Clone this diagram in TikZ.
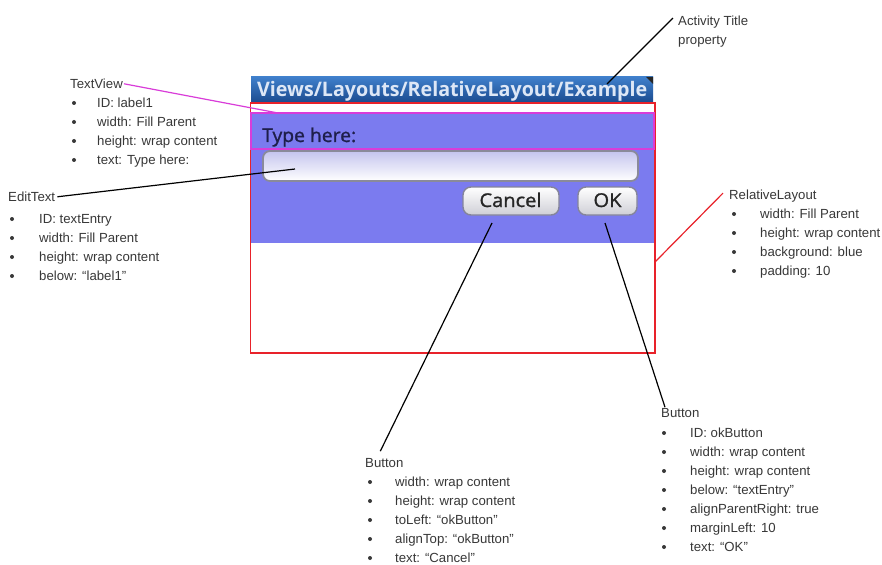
\documentclass[tikz,border=0pt]{standalone}
\usepackage{graphicx}
\usepackage{fontspec}
\setmainfont{Liberation Sans}
\newfontfamily\droid{Open Sans}
\newfontfamily\droidm[FakeBold=1.2]{Open Sans}
\definecolor{labelgray}{HTML}{383838}
\definecolor{titletop}{HTML}{3F7FCB}
\definecolor{titlebot}{HTML}{1C4C90}
\definecolor{titletext}{HTML}{DDE7F6}
\definecolor{bodyblue}{HTML}{7B7BEF}
\definecolor{tvmagenta}{HTML}{D93CD9}
\definecolor{rlred}{HTML}{E8222A}
\definecolor{editborder}{HTML}{8A8A9A}
\definecolor{editlav}{HTML}{C4C4EE}
\definecolor{btnborder}{HTML}{85859A}
\definecolor{btnbot}{HTML}{CFCFD6}
\definecolor{typetext}{HTML}{1E1E4A}
\begin{document}
\begin{tikzpicture}[x=1pt,y=-1pt,
  lbl/.style={anchor=base west, inner sep=0pt, font=\fontsize{13.2}{16}\selectfont, text=labelgray},
  bul/.style={circle, fill=labelgray, inner sep=0pt, minimum size=4pt},
  conn/.style={line width=1.2pt, black},
  tvconn/.style={line width=1.2pt, tvmagenta},
  rlconn/.style={line width=1.2pt, rlred}]
\useasboundingbox (0,0) rectangle (882,564);
\fill[white] (0,0) rectangle (882,564);

% ---------- phone screen ----------
\shade[top color=titletop, bottom color=titlebot] (251,77) rectangle (653,102);
\fill[black!85] (646,77) -- (653,77) -- (653,84) -- cycle;
\node[anchor=base west, inner sep=0pt, text=titletext] (title) at (257,97)
  {\resizebox{390pt}{\height}{\droid\bfseries\fontsize{20}{24}\selectfont Views/Layouts/RelativeLayout/Example}};
\fill[white] (251,102) rectangle (654,353);
\fill[bodyblue] (251,113) rectangle (654,243);
\draw[rlred, line width=1.5pt] (250.5,103) rectangle (655,353);
\draw[tvmagenta, line width=1.3pt] (251,113) rectangle (654,149);
\node[anchor=base west, inner sep=0pt, text=typetext] (typehere) at (262,142)
  {\resizebox{94pt}{\height}{\droidm\fontsize{19}{22}\selectfont Type here:}};
\draw[rounded corners=7pt, draw=editborder, line width=1.8pt, top color=editlav, bottom color=white]
  (263,151) rectangle (638,181);
\draw[rounded corners=8pt, draw=btnborder, line width=1.4pt, top color=white, bottom color=btnbot]
  (463,187) rectangle (559,215);
\draw[rounded corners=8pt, draw=btnborder, line width=1.4pt, top color=white, bottom color=btnbot]
  (578,187) rectangle (637,215);
\node[anchor=base, inner sep=0pt, text=black!85] (cancel) at (510.5,207)
  {\resizebox{62pt}{\height}{\droidm\fontsize{19}{22}\selectfont Cancel}};
\node[anchor=base, inner sep=0pt, text=black!85] (ok) at (607.5,207)
  {\resizebox{28pt}{\height}{\droidm\fontsize{19}{22}\selectfont OK}};

% ---------- connector targets on the screen ----------
\coordinate (titleP) at (607,84);
\coordinate (tvP) at (278,113);
\coordinate (etP) at (295,169);
\coordinate (rlP) at (655,262);
\coordinate (cancelP) at (492,223);
\coordinate (okP) at (605,223);

% ---------- Activity Title ----------
\node[lbl] (act) at (678,25.5) {Activity Title};
\node[lbl] (actprop) at (678,44.5) {property};

% ---------- TextView ----------
\node[lbl] (tvlbl) at (70,88.5) {TextView};
\foreach \t [count=\i from 0] in {ID: label1, width: Fill Parent, height: wrap content, text: Type here:} {
  \node[bul] (tvb\i) at (74,103+19*\i) {};
  \node[lbl] (tvt\i) at (97,107.5+19*\i) {\t};
}

% ---------- EditText ----------
\node[lbl] (etlbl) at (8,201.5) {EditText};
\foreach \t [count=\i from 0] in {ID: textEntry, width: Fill Parent, height: wrap content, below: “label1”} {
  \node[bul] (etb\i) at (12,219+19*\i) {};
  \node[lbl] (ett\i) at (39,223.5+19*\i) {\t};
}

% ---------- RelativeLayout ----------
\node[lbl] (rllbl) at (729,199.5) {RelativeLayout};
\foreach \t [count=\i from 0] in {width: Fill Parent, height: wrap content, background: blue, padding: 10} {
  \node[bul] (rlb\i) at (734,214+19*\i) {};
  \node[lbl] (rlt\i) at (760,218.5+19*\i) {\t};
}

% ---------- Cancel Button ----------
\node[lbl] (cblbl) at (365,467.5) {Button};
\foreach \t [count=\i from 0] in {width: wrap content, height: wrap content, toLeft: “okButton”, alignTop: “okButton”, text: “Cancel”} {
  \node[bul] (cbb\i) at (370,482+19*\i) {};
  \node[lbl] (cbt\i) at (395,486.5+19*\i) {\t};
}

% ---------- OK Button ----------
\node[lbl] (oklbl) at (661,417.5) {Button};
\foreach \t [count=\i from 0] in {ID: okButton, width: wrap content, height: wrap content, below: “textEntry”, alignParentRight: true, marginLeft: 10, text: “OK”} {
  \node[bul] (okb\i) at (664,433+19*\i) {};
  \node[lbl] (okt\i) at (690,437.5+19*\i) {\t};
}

% ---------- connectors ----------
\draw[conn] ([shift={(-5,-4)}]act.west) -- (titleP);
\draw[tvconn] ([shift={(1,0)}]tvlbl.east) -- (tvP);
\draw[conn] ([shift={(2,0)}]etlbl.east) -- (etP);
\draw[rlconn] ([shift={(-6,-3)}]rllbl.west) -- (rlP);
\draw[conn] ([shift={(-4,-7)}]cblbl.north) -- (cancelP);
\draw[conn] ([shift={(4,-1)}]oklbl.north west) -- (okP);
\end{tikzpicture}
\end{document}
